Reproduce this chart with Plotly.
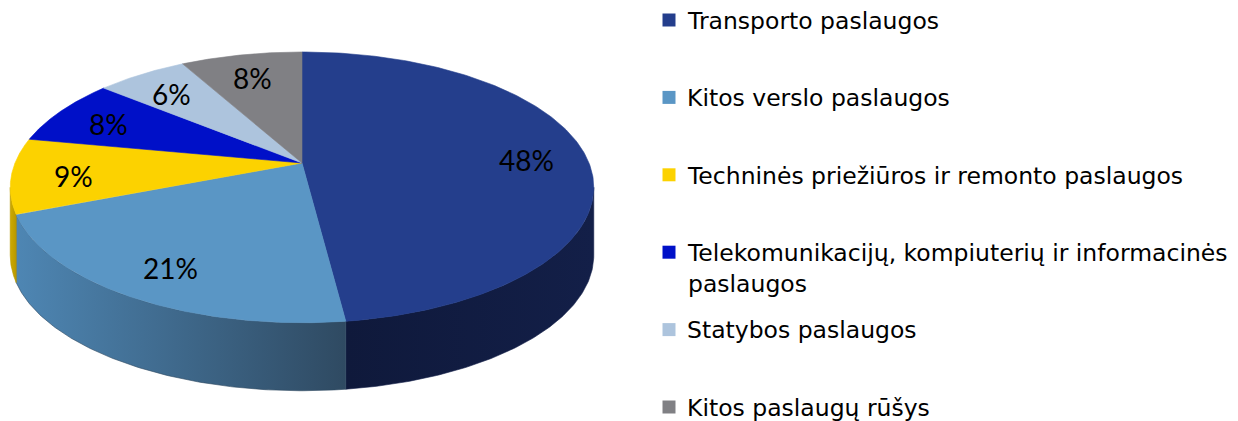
import numpy as np
import plotly.graph_objects as go

# ---------------- data ----------------
categories = [
    "Transporto paslaugos",
    "Kitos verslo paslaugos",
    "Techninės priežiūros ir remonto paslaugos",
    "Telekomunikacijų, kompiuterių ir informacinės<br>paslaugos",
    "Statybos paslaugos",
    "Kitos paslaugų rūšys",
]
values = [48, 21, 9, 8, 6, 8]
pct_labels = [f"{v}%" for v in values]

top_colors = ["#243E8C", "#5A96C5", "#FCD200", "#0010C8", "#ADC4DD", "#808084"]
side_left = ["#0F193B", "#4E86B3", "#CDAA00", "#000AA0", "#8AA0B8", "#606064"]
side_right = ["#131F48", "#2F4A62", "#B89800", "#00087A", "#7088A0", "#505054"]

# ---------------- geometry (pixel space) ----------------
W, H = 1238, 421
CX, VY = 302.0, 163.0       # projected pie centre
B, A, K = 287.0, 131.0, 0.18  # half width, half depth, perspective factor
DEPTH = 68.0
LABEL_R = 0.79


def proj(theta_deg, r=1.0, z=0.0):
    t = np.radians(theta_deg)
    d = r * np.cos(t)
    s = r * np.sin(t)
    w = 1 + K * d
    return CX + B * s / w, VY - A * d / w + z


total = float(sum(values))
ang = np.concatenate([[0.0], np.cumsum(values) / total * 360.0])
T1 = np.degrees(np.arccos(-K))
T2 = 360.0 - T1

fig = go.Figure()

# side walls
for i in range(len(values)):
    lo, hi = max(ang[i], T1), min(ang[i + 1], T2)
    if hi <= lo:
        continue
    th = np.linspace(lo, hi, 120)
    xt, yt = proj(th)
    xb, yb = proj(th[::-1], z=DEPTH)
    xs = np.concatenate([xt, xb, xt[:1]])
    ys = np.concatenate([yt, yb, yt[:1]])
    fig.add_trace(go.Scatter(
        x=xs, y=ys, mode="lines", fill="toself",
        line=dict(width=0.6, color=side_right[i]),
        fillgradient=dict(type="horizontal",
                          colorscale=[[0, side_left[i]], [1, side_right[i]]]),
        hoverinfo="skip", showlegend=False))

# top faces
for i in range(len(values)):
    th = np.linspace(ang[i], ang[i + 1], 200)
    xa, ya = proj(th)
    xs = np.concatenate([[CX], xa, [CX]])
    ys = np.concatenate([[VY], ya, [VY]])
    fig.add_trace(go.Scatter(
        x=xs, y=ys, mode="lines", fill="toself", fillcolor=top_colors[i],
        line=dict(width=0.6, color=top_colors[i]),
        hoverinfo="skip", showlegend=False, name=categories[i]))

# percentage labels
mids = (ang[:-1] + ang[1:]) / 2
for i, m in enumerate(mids):
    lx, ly = proj(m, r=LABEL_R)
    fig.add_annotation(x=float(lx), y=float(ly) + 3, text=pct_labels[i], showarrow=False,
                       xanchor="center", yanchor="middle",
                       font=dict(family="Lato, Noto Sans, sans-serif", size=28, color="black"))

# legend (squares + text)
LEG_X, LEG_Y0, LEG_DY = 669, 20, 77.4
leg_y = [LEG_Y0 + LEG_DY * i for i in range(len(categories))]
fig.add_trace(go.Scatter(
    x=[LEG_X] * len(categories), y=leg_y, mode="markers",
    marker=dict(symbol="square", size=13, color=top_colors, line=dict(width=0)),
    hoverinfo="skip", showlegend=False))
LEG_FS = 23.5
for i, cat in enumerate(categories):
    fig.add_annotation(x=LEG_X + 16, y=leg_y[i] - 0.65 * LEG_FS, text=cat, showarrow=False,
                       xanchor="left", yanchor="top", align="left",
                       font=dict(family="DejaVu Sans, sans-serif",
                                 size=LEG_FS, color="black"))

fig.update_layout(
    width=W, height=H, margin=dict(l=0, r=0, t=0, b=0),
    paper_bgcolor="white", plot_bgcolor="white", showlegend=False,
    xaxis=dict(range=[0, W], visible=False, fixedrange=True),
    yaxis=dict(range=[H, 0], visible=False, fixedrange=True),
)

fig.write_html("out.html")
